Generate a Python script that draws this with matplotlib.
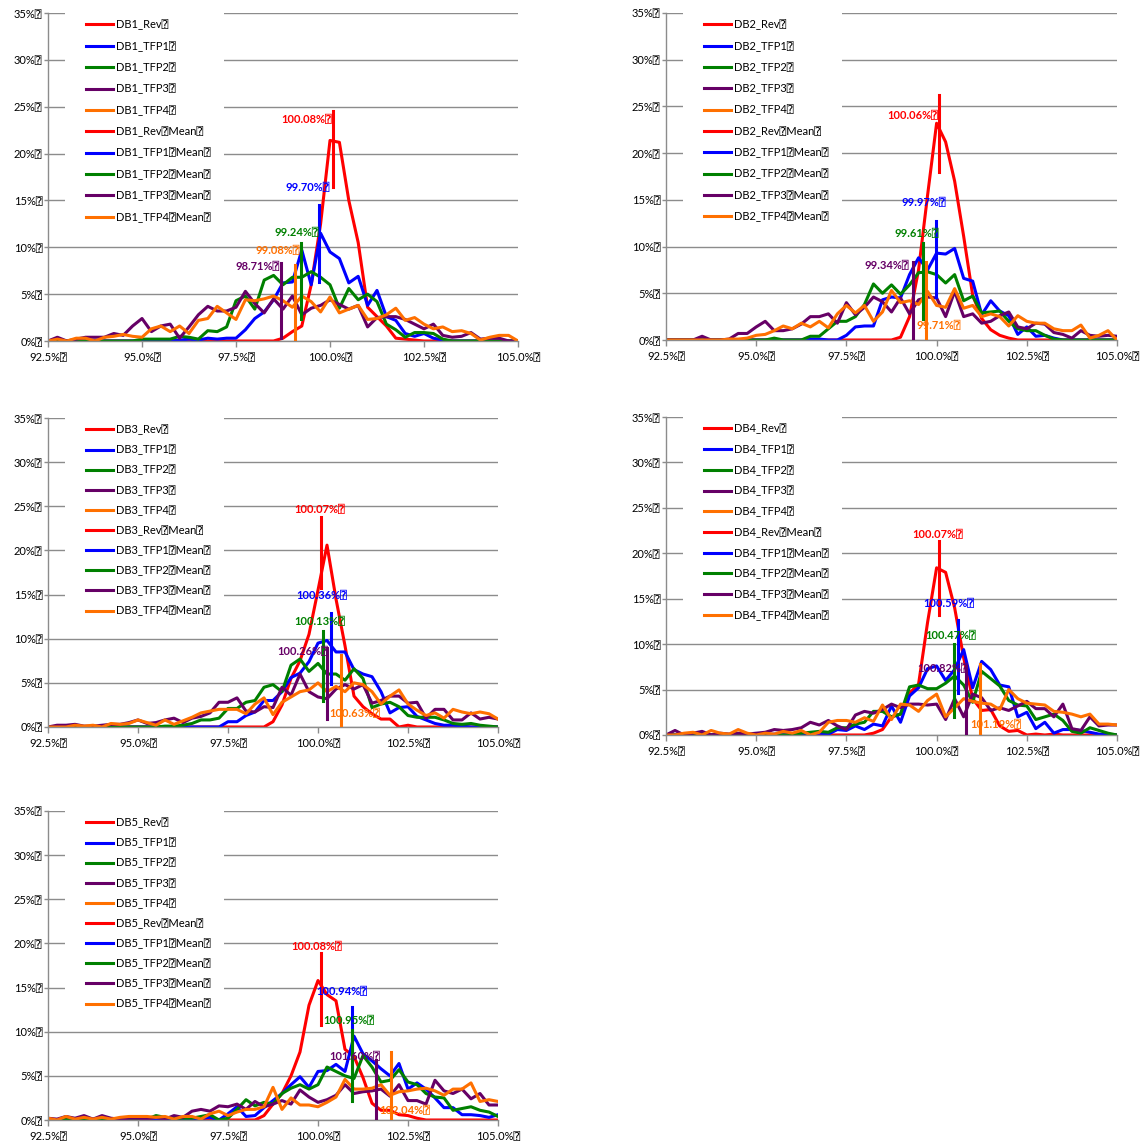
import matplotlib
matplotlib.use("Agg")
import matplotlib.pyplot as plt
from matplotlib.patches import Rectangle
from matplotlib.transforms import IdentityTransform
from matplotlib.ticker import FuncFormatter

plt.rcParams['font.family'] = ['Lato', 'DejaVu Sans', 'DejaVu Sans Mono']

BOX = "\u2370"

# histogram bins (% of mean)
bins = [92.5, 92.75, 93.0, 93.25, 93.5, 93.75, 94.0, 94.25, 94.5, 94.75,
        95.0, 95.25, 95.5, 95.75, 96.0, 96.25, 96.5, 96.75, 97.0, 97.25,
        97.5, 97.75, 98.0, 98.25, 98.5, 98.75, 99.0, 99.25, 99.5, 99.75,
        100.0, 100.25, 100.5, 100.75, 101.0, 101.25, 101.5, 101.75, 102.0, 102.25,
        102.5, 102.75, 103.0, 103.25, 103.5, 103.75, 104.0, 104.25, 104.5, 104.75,
        105.0]

series_names = ["Rev", "TFP1", "TFP2", "TFP3", "TFP4"]

# ---- DB1 ----
db1_rev = [0] * 25 + [0.3, 1.0, 1.6, 6.0, 12.5, 21.4, 21.2, 15.0, 10.5, 3.6,
                      2.6, 1.6, 0.3, 0.2, 0.1] + [0] * 11
db1_tfp1 = [0] * 14 + [0.1, 0.2, 0.1, 0.3, 0.2, 0.3, 0.3, 1.2, 2.4, 3.1, 4.4,
                       6.2, 6.3, 9.7, 6.0, 11.5, 9.5, 8.8, 6.2, 6.9, 3.8,
                       5.4, 2.6, 2.2, 0.8, 0.5, 0.8, 0.3, 0.1] + [0] * 8
db1_tfp2 = [0] * 10 + [0.2, 0.2, 0.2, 0.2, 0.5, 0.4, 0.2, 1.1, 1.0, 1.5,
                       4.3, 4.8, 3.4, 6.5, 7.0, 6.0, 6.8, 6.8, 7.4, 6.8,
                       6.0, 3.5, 5.6, 4.4, 5.0, 4.2, 1.8, 1.2, 0.4, 0.9,
                       0.9, 0.8, 0.2] + [0] * 8
db1_tfp3 = [0, 0.4, 0, 0.2, 0.4, 0.4, 0.4, 0.8, 0.6, 1.6,
            2.4, 1.0, 1.6, 1.8, 0.3, 1.5, 2.8, 3.7, 3.2, 3.2,
            3.6, 5.3, 4.0, 3.0, 4.5, 3.4, 4.8, 2.8, 3.5, 3.8,
            4.4, 3.9, 3.4, 3.8, 1.5, 2.5, 2.6, 2.6, 2.3, 1.8,
            1.3, 1.8, 0.6, 0.4, 0.5, 0.9, 0.2, 0.3, 0.3, 0, 0]
db1_tfp4 = [0, 0.2, 0, 0.3, 0.3, 0, 0.4, 0.5, 0.7, 0.5,
            0.4, 1.3, 1.6, 1.0, 1.6, 0.8, 2.2, 2.4, 3.7, 3.0,
            2.3, 4.4, 4.3, 4.5, 4.8, 4.3, 3.6, 4.8, 4.2, 3.1,
            4.7, 3.0, 3.4, 3.8, 2.3, 2.4, 2.8, 3.5, 2.2, 2.5,
            1.8, 1.3, 1.5, 1.0, 1.1, 0.8, 0.1, 0.4, 0.6, 0.6, 0]
db1_mean = [100.08, 99.70, 99.24, 98.71, 99.08]
db1_mean_lo = [16.4, 6.3, 2.4, 0.3, 0.0]
db1_mean_hi = [24.5, 14.5, 10.5, 8.3, 8.1]

# ---- DB2 ----
db2_rev = [0] * 26 + [0.3, 2.5, 7.5, 15.5, 23.2, 21.2, 17.0, 11.1, 4.8, 2.3,
                      1.1, 0.5, 0.2] + [0] * 12
db2_tfp1 = [0] * 16 + [0.1, 0.1, 0, 0, 0.5, 1.4, 1.5, 1.5, 4.3, 4.6,
                       4.5, 7.0, 8.8, 7.5, 9.3, 9.2, 9.8, 6.6, 6.3, 2.7,
                       4.2, 3.1, 2.6, 0.6, 1.4, 0.4, 0.5, 0.2] + [0] * 7
db2_tfp2 = [0] * 12 + [0.2, 0, 0, 0, 0.4, 0.4, 1.2, 2.0, 2.0, 2.5,
                       3.8, 6.0, 5.0, 5.9, 4.9, 5.9, 7.2, 7.3, 7.0, 6.1,
                       7.0, 4.2, 4.7, 2.9, 3.0, 3.1, 2.0, 1.2, 1.0, 1.0,
                       0.5, 0.1] + [0] * 7
db2_tfp3 = [0, 0, 0, 0, 0.4, 0, 0, 0.1, 0.7, 0.7,
            1.4, 2.0, 1.0, 1.0, 1.2, 1.7, 2.5, 2.5, 2.8, 1.8,
            4.0, 2.7, 3.5, 4.6, 4.1, 3.0, 4.5, 2.8, 4.3, 4.6,
            4.5, 2.5, 5.2, 2.5, 2.8, 1.8, 2.0, 2.6, 3.0, 1.4,
            1.2, 1.8, 1.7, 0.8, 0.6, 0.2, 1.0, 0.5, 0.4, 0.5, 0.4]
db2_tfp4 = [0, 0, 0, 0, 0, 0, 0, 0.1, 0.1, 0.2,
            0.5, 0.6, 1.0, 1.5, 1.2, 1.8, 1.4, 2.0, 1.3, 2.8,
            3.7, 2.9, 3.7, 2.0, 3.0, 5.3, 4.0, 4.2, 3.8, 5.2,
            3.7, 3.5, 5.5, 3.4, 3.7, 2.5, 2.8, 2.5, 1.5, 2.6,
            2.0, 1.8, 1.8, 1.2, 1.0, 1.0, 1.6, 0.2, 0.5, 1.0, 0]
db2_mean = [100.06, 99.97, 99.61, 99.34, 99.71]
db2_mean_lo = [18.0, 4.6, 2.3, 0.25, 0.25]
db2_mean_hi = [26.2, 12.75, 10.4, 8.4, 8.4]

# ---- DB3 ----
db3_rev = [0] * 25 + [0.6, 2.5, 5.5, 7.5, 10.5, 15.5, 20.6, 14.5, 9.2, 3.5,
                      2.3, 1.5, 0.9, 0.9, 0, 0.2] + [0] * 10
db3_tfp1 = [0] * 20 + [0.6, 0.6, 1.3, 1.7, 3.0, 3.0, 4.0, 5.6, 6.1, 7.4,
                       9.5, 9.8, 8.5, 8.5, 6.5, 6.0, 5.7, 4.0, 1.6, 2.2,
                       2.3, 1.2, 0.8, 0.4, 0.2, 0.2, 0.1] + [0] * 4
db3_tfp2 = [0] * 13 + [0.1, 0.1, 0.2, 0.4, 0.8, 0.8, 1.0, 2.1, 2.1, 2.8,
                       3.0, 4.5, 4.8, 4.0, 7.0, 7.7, 6.3, 7.2, 6.0, 6.0,
                       5.3, 6.6, 5.5, 2.2, 2.6, 2.8, 2.3, 1.3, 1.1, 1.1,
                       1.1, 0.8, 0.4, 0.3, 0.4, 0.2, 0.1, 0]
db3_tfp3 = [0, 0.2, 0.2, 0.3, 0.1, 0.1, 0.2, 0.3, 0.3, 0.5,
            0.8, 0.4, 0.5, 0.8, 1.0, 0.5, 1.0, 1.2, 1.6, 2.8,
            2.8, 3.3, 1.8, 1.7, 2.3, 2.2, 4.5, 3.6, 6.0, 4.0,
            3.4, 3.2, 4.3, 4.8, 4.3, 4.8, 2.7, 3.0, 3.5, 3.5,
            2.7, 2.8, 1.0, 2.0, 2.0, 0.8, 0.8, 1.6, 0.9, 1.1, 0.9]
db3_tfp4 = [0, 0, 0, 0.2, 0.1, 0.2, 0, 0.4, 0.3, 0.4,
            0.8, 0.5, 0.2, 0.8, 0.3, 0.7, 1.1, 1.6, 1.8, 2.0,
            2.0, 2.0, 1.5, 2.6, 3.3, 1.4, 2.8, 3.4, 4.0, 4.2,
            5.0, 4.0, 4.6, 4.0, 5.0, 4.8, 4.0, 2.6, 3.5, 4.2,
            2.6, 1.9, 1.3, 1.6, 1.0, 2.0, 1.7, 1.5, 1.7, 1.5, 0.9]
db3_mean = [100.07, 100.36, 100.13, 100.26, 100.63]
db3_mean_lo = [15.7, 4.9, 2.9, 0.9, 0.0]
db3_mean_hi = [23.8, 12.9, 10.9, 8.9, 8.15]

# ---- DB4 ----
db4_rev = [0] * 23 + [0.2, 0.6, 2.0, 2.3, 4.6, 5.6, 12.4, 18.4, 17.9, 14.0,
                      8.5, 4.0, 2.7, 2.8, 1.0, 0.4, 0.5, 0, 0.1, 0, 0.1] + [0] * 7
db4_tfp1 = [0] * 12 + [0.1, 0, 0.1, 0.1, 0.1, 0.2, 0.1, 0.6, 0.5, 1.0,
                       0.6, 1.2, 1.0, 3.2, 1.4, 4.3, 5.2, 7.3, 7.6, 6.0,
                       7.2, 9.4, 5.2, 8.1, 7.2, 5.5, 5.3, 2.0, 2.5, 0.7,
                       1.4, 0.2, 0.6, 0.6, 0.5, 0.3, 0.1, 0, 0]
db4_tfp2 = [0] * 15 + [0.2, 0.3, 0.4, 0.3, 0.8, 0.8, 1.2, 1.4, 2.6, 2.6,
                       2.0, 2.3, 5.3, 5.5, 5.1, 5.1, 5.7, 6.5, 5.5, 3.6,
                       7.0, 6.2, 5.4, 3.8, 3.3, 3.2, 1.7, 2.0, 2.3, 1.6,
                       0.4, 0.2, 0.8, 0.5, 0.2, 0]
db4_tfp3 = [0, 0.5, 0, 0.2, 0.4, 0, 0.2, 0.1, 0.2, 0.1,
            0.2, 0.3, 0.6, 0.5, 0.6, 0.8, 1.4, 1.1, 1.6, 1.0,
            0.6, 2.2, 2.6, 2.4, 2.8, 3.4, 3.0, 3.4, 3.4, 3.3,
            3.4, 1.7, 4.0, 2.0, 4.5, 4.1, 2.7, 3.0, 2.7, 3.2,
            3.7, 2.9, 2.9, 2.0, 3.4, 0.7, 0.5, 2.0, 1.0, 1.1, 1.1]
db4_tfp4 = [0, 0, 0.2, 0.3, 0, 0.5, 0.2, 0.1, 0.6, 0.2,
            0, 0.2, 0.1, 0.4, 0.2, 0.5, 0, 0.3, 1.4, 1.6,
            1.6, 1.4, 1.9, 1.5, 3.3, 1.7, 3.4, 3.3, 2.6, 3.8,
            4.5, 2.0, 3.0, 4.0, 3.7, 3.5, 3.4, 2.8, 5.0, 4.0,
            3.5, 3.4, 3.3, 2.6, 2.5, 2.3, 2.0, 2.3, 1.2, 1.2, 1.1]
db4_mean = [100.07, 100.59, 100.47, 100.82, 101.19]
db4_mean_lo = [13.2, 4.6, 2.0, 0.0, 0.0]
db4_mean_hi = [21.4, 12.7, 10.0, 7.55, 7.85]

# ---- DB5 ----
db5_rev = [0] * 24 + [0.5, 1.8, 3.0, 5.0, 7.7, 13.0, 15.8, 14.2, 13.5, 8.0,
                      7.2, 4.8, 1.9, 1.1, 1.1, 0.6, 0.5, 0.2] + [0] * 9
db5_tfp1 = [0.1, 0, 0.1, 0, 0, 0.1, 0, 0, 0, 0,
            0, 0.1, 0, 0, 0, 0.1, 0.1, 0.2, 0.3, 0,
            0.7, 1.5, 0.4, 0.5, 1.4, 2.2, 3.0, 4.0, 4.9, 3.7,
            5.5, 5.6, 6.3, 5.5, 9.5, 7.5, 6.7, 5.8, 5.0, 6.4,
            3.5, 4.2, 3.5, 2.5, 1.4, 1.4, 0.6, 0.6, 0.5, 0.3, 0.6]
db5_tfp2 = [0, 0, 0.1, 0, 0, 0, 0.1, 0, 0, 0,
            0, 0.1, 0.5, 0.3, 0.2, 0.2, 0.2, 0.4, 0.6, 0,
            0.2, 1.2, 2.3, 1.6, 2.0, 1.8, 3.0, 3.6, 4.0, 3.5,
            4.0, 6.0, 5.5, 5.0, 4.7, 7.3, 6.0, 4.3, 4.5, 5.7,
            4.3, 4.0, 3.0, 2.6, 2.5, 1.1, 1.3, 1.5, 1.1, 0.9, 0.4]
db5_tfp3 = [0.2, 0.1, 0.4, 0.2, 0.5, 0.1, 0.5, 0.2, 0.1, 0.2,
            0.2, 0.1, 0.3, 0.1, 0.5, 0.3, 1.0, 1.2, 1.0, 1.6,
            1.5, 1.8, 1.2, 2.1, 1.5, 1.8, 2.2, 1.8, 3.4, 2.6,
            2.0, 2.3, 2.8, 4.0, 3.0, 3.2, 3.3, 3.5, 2.7, 4.0,
            2.2, 2.2, 1.8, 4.5, 3.3, 3.0, 3.5, 2.4, 3.0, 1.7, 1.7]
db5_tfp4 = [0.2, 0, 0.4, 0.1, 0.3, 0.1, 0.3, 0.1, 0.3, 0.4,
            0.4, 0.4, 0.3, 0.4, 0.1, 0.4, 0.4, 0.1, 0.7, 1.0,
            0.5, 0.9, 1.2, 1.2, 1.5, 3.7, 1.2, 2.5, 1.7, 1.7,
            1.5, 2.0, 2.6, 4.6, 3.5, 3.5, 3.6, 4.0, 2.8, 3.2,
            3.3, 3.5, 3.6, 3.3, 2.8, 3.5, 3.5, 4.2, 2.1, 2.3, 2.1]
db5_mean = [100.08, 100.94, 100.95, 101.60, 102.04]
db5_mean_lo = [10.75, 4.7, 2.1, 0.0, 0.0]
db5_mean_hi = [18.9, 12.75, 10.2, 6.8, 7.7]

# ---- layout ----
colors = ['#ff0000', '#0000ff', '#008000', '#660066', '#ff7000']

# axes boxes in pixels (left, top, right, bottom)
boxes = [(48, 13, 518, 341), (666, 13, 1117, 340), (48, 418, 498, 727),
         (666, 417, 1117, 735), (48, 811, 498, 1120)]

# mean label positions (x in %, y in %)
label_pos = [
    [(99.39, 23.6), (99.41, 16.4), (99.12, 11.6), (98.07, 8.0), (98.61, 9.7)],
    [(99.35, 24.0), (99.64, 14.75), (99.46, 11.35), (98.63, 8.0), (100.07, 1.6)],
    [(100.04, 24.6), (100.10, 14.9), (100.04, 12.0), (99.59, 8.6), (101.03, 1.5)],
    [(100.04, 22.1), (100.34, 14.5), (100.38, 11.0), (100.16, 7.3), (101.64, 1.2)],
    [(99.96, 19.7), (100.66, 14.6), (100.86, 11.3), (101.01, 7.2), (102.42, 1.1)],
]

panels = [
    ("DB1", [db1_rev, db1_tfp1, db1_tfp2, db1_tfp3, db1_tfp4], db1_mean, db1_mean_lo, db1_mean_hi),
    ("DB2", [db2_rev, db2_tfp1, db2_tfp2, db2_tfp3, db2_tfp4], db2_mean, db2_mean_lo, db2_mean_hi),
    ("DB3", [db3_rev, db3_tfp1, db3_tfp2, db3_tfp3, db3_tfp4], db3_mean, db3_mean_lo, db3_mean_hi),
    ("DB4", [db4_rev, db4_tfp1, db4_tfp2, db4_tfp3, db4_tfp4], db4_mean, db4_mean_lo, db4_mean_hi),
    ("DB5", [db5_rev, db5_tfp1, db5_tfp2, db5_tfp3, db5_tfp4], db5_mean, db5_mean_lo, db5_mean_hi),
]

W, H = 1147, 1144
fig = plt.figure(figsize=(W / 100, H / 100), dpi=100)
fig.patch.set_facecolor('white')

grey = '#8c8c8c'
FS = 8

legends = []
for k, (db, series, means, lo, hi) in enumerate(panels):
    l, t, r, b = boxes[k]
    ax = fig.add_axes([l / W, 1 - b / H, (r - l) / W, (b - t) / H])

    for s, name, c in zip(series, series_names, colors):
        ax.plot(bins, s, color=c, lw=2.2, label=f"{db}_{name}{BOX}", zorder=2)
    for m, y0, y1, name, c in zip(means, lo, hi, series_names, colors):
        ax.plot([m, m], [y0, y1], color=c, lw=2.2,
                label=f"{db}_{name}{BOX}Mean{BOX}", zorder=3)
    for (lx, ly), m, c in zip(label_pos[k], means, colors):
        ax.text(lx, ly, f"{m:.2f}%{BOX}", color=c, fontsize=FS,
                fontweight='bold', ha='center', va='center', zorder=6)

    ax.set_xlim(92.5, 105.0)
    ax.set_ylim(0, 35)
    ax.set_xticks([92.5, 95.0, 97.5, 100.0, 102.5, 105.0])
    ax.set_yticks(range(0, 36, 5))
    ax.xaxis.set_major_formatter(FuncFormatter(lambda v, p: f"{v:.1f}%{BOX}"))
    ax.yaxis.set_major_formatter(FuncFormatter(lambda v, p: f"{v:.0f}%{BOX}"))
    ax.tick_params(axis='both', labelsize=FS, colors=grey, labelcolor='black',
                   width=1)
    ax.tick_params(axis='x', length=4, pad=4)
    ax.tick_params(axis='y', length=3, pad=1)

    ax.yaxis.grid(True, color=grey, lw=1)
    ax.set_axisbelow(True)
    for side in ('top', 'right'):
        ax.spines[side].set_visible(False)
    for side in ('left', 'bottom'):
        ax.spines[side].set_color(grey)
        ax.spines[side].set_linewidth(1)

    pitch = (b - t) * 0.0655
    fs_px = FS * 100 / 72
    leg = ax.legend(loc='upper left',
                    bbox_to_anchor=(35 / (r - l), 1.0 - 3 / (b - t)),
                    fontsize=FS, frameon=False,
                    handlelength=2.4, handletextpad=0.3,
                    labelspacing=pitch / fs_px - 1.0, borderpad=0.3,
                    borderaxespad=0.0)
    leg.set_zorder(5)
    legends.append((ax, leg))

# white backing behind each legend, covering the gridlines like the original
fig.canvas.draw()
for (ax, leg), (l, t, r, b) in zip(legends, boxes):
    bb = leg.get_window_extent()
    x0 = l + 17
    top = H - t + 1
    ax.add_patch(Rectangle((x0, bb.y0), bb.x1 + 10 - x0, top - bb.y0,
                           transform=IdentityTransform(), facecolor='white',
                           edgecolor='none', zorder=4, clip_on=False))

fig.savefig("out.png", dpi=100)
